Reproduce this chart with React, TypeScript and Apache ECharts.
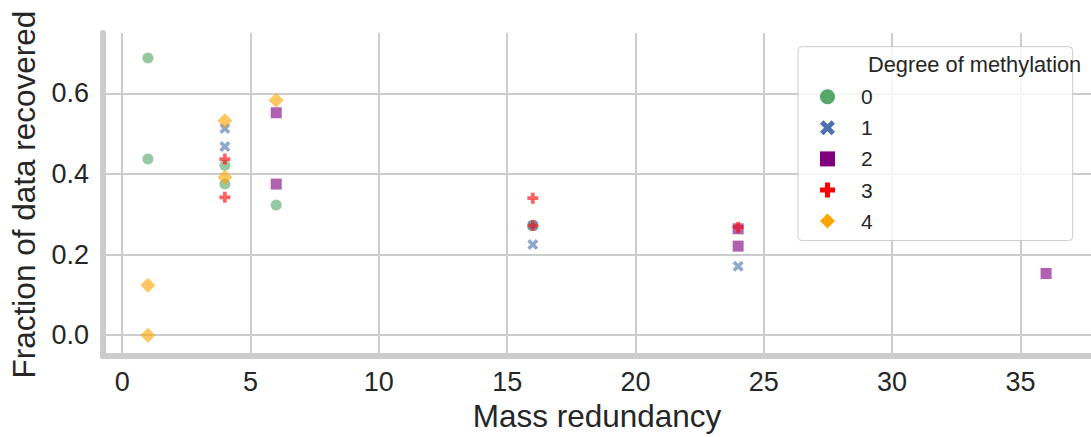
import React, { useEffect, useRef } from "react";
import * as echarts from "echarts";

const degrees = ["0", "1", "2", "3", "4"];
const colors = ["#55a868", "#4c72b0", "#800080", "#ff0000", "#ffa500"];
const PLUS = "path://M1,0H2V1H3V2H2V3H1V2H0V1H1Z";
const XMARK = "path://M0.7,0L1.5,0.8L2.3,0L3,0.7L2.2,1.5L3,2.3L2.3,3L1.5,2.2L0.7,3L0,2.3L0.8,1.5L0,0.7Z";
const symbols = ["circle", XMARK, "rect", PLUS, "diamond"];
const symbolSizes = [11, 11, 11, 11, 15];

const deg0: number[][] = [[1, 0.688], [1, 0.437], [4, 0.422], [4, 0.375], [6, 0.323], [16, 0.272]];
const deg1: number[][] = [[4, 0.513], [4, 0.468], [16, 0.272], [16, 0.225], [24, 0.171]];
const deg2: number[][] = [[6, 0.552], [6, 0.375], [24, 0.264], [24, 0.221], [36, 0.153]];
const deg3: number[][] = [[4, 0.437], [4, 0.342], [16, 0.34], [16, 0.272], [24, 0.268]];
const deg4: number[][] = [[1, 0.124], [1, 0.0], [4, 0.532], [4, 0.392], [6, 0.583]];
const seriesData = [deg0, deg1, deg2, deg3, deg4];

const xTitle = "Mass redundancy";
const yTitle = "Fraction of data recovered";
const legendTitle = "Degree of methylation";

const FONT = "Liberation Sans";
const TXT = "#262626";

export default function App() {
  const ref = useRef<HTMLDivElement>(null);
  useEffect(() => {
    if (!ref.current) return;
    const chart = echarts.init(ref.current, null, { renderer: "svg" });
    chart.setOption({
      animation: false,
      backgroundColor: "#ffffff",
      grid: { left: 102.5, right: -10, top: 33, bottom: 77.5 },
      xAxis: {
        type: "value",
        min: -0.75,
        max: 37.75,
        minInterval: 5,
        maxInterval: 5,
        name: xTitle,
        nameLocation: "middle",
        nameGap: 40,
        nameTextStyle: { fontFamily: FONT, fontSize: 31.5, color: TXT },
        axisLine: { show: true, onZero: false, lineStyle: { color: "#cccccc", width: 6 } },
        axisTick: { show: false },
        axisLabel: {
          fontFamily: FONT, fontSize: 27, color: TXT, margin: 12,
          showMinLabel: false, showMaxLabel: false,
        },
        splitLine: { show: true, showMinLine: false, showMaxLine: false, lineStyle: { color: "#cccccc", width: 2 } },
      },
      yAxis: {
        type: "value",
        min: -0.052,
        max: 0.75,
        minInterval: 0.2,
        maxInterval: 0.2,
        name: yTitle,
        nameLocation: "middle",
        nameRotate: 90,
        nameGap: 63,
        nameTextStyle: { fontFamily: FONT, fontSize: 31.5, color: TXT },
        axisLine: { show: true, onZero: false, lineStyle: { color: "#cccccc", width: 6 } },
        axisTick: { show: false },
        axisLabel: {
          fontFamily: FONT, fontSize: 27, color: TXT, margin: 14,
          showMinLabel: false, showMaxLabel: false,
          formatter: (v: number) => v.toFixed(1),
        },
        splitLine: { show: true, showMinLine: false, showMaxLine: false, lineStyle: { color: "#cccccc", width: 2 } },
      },
      legend: {
        orient: "vertical",
        left: 798,
        top: 46.7,
        padding: [39.5, 200, 9, 22],
        itemWidth: 15,
        itemHeight: 15,
        itemGap: 10.1,
        backgroundColor: "rgba(255,255,255,0.8)",
        borderColor: "#cccccc",
        borderWidth: 1,
        borderRadius: 4,
        itemStyle: { opacity: 1 },
        textStyle: { fontFamily: FONT, fontSize: 21, color: TXT, lineHeight: 20, padding: [0, 0, 0, 21] },
        data: degrees,
      },
      graphic: [
        {
          type: "text",
          z: 100,
          x: 868,
          y: 64,
          style: { text: legendTitle, font: `21.8px "${FONT}"`, fill: TXT, textVerticalAlign: "middle" },
        },
      ],
      series: degrees.map((d, i) => ({
        name: d,
        type: "scatter",
        symbol: symbols[i],
        symbolSize: symbolSizes[i],
        itemStyle: { color: colors[i], opacity: 0.62 },
        data: seriesData[i],
      })),
    });
    return () => chart.dispose();
  }, []);
  return <div ref={ref} style={{ position: "fixed", left: 0, top: 0, width: 1091, height: 437 }} />;
}
